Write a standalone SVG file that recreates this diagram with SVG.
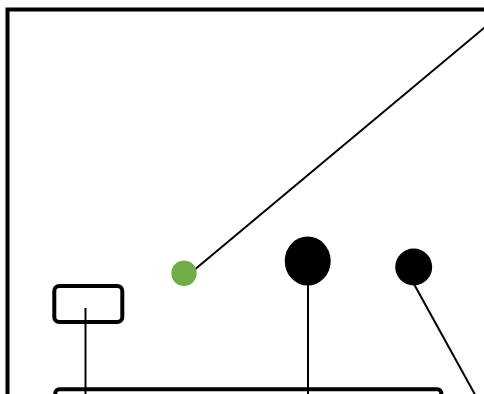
<svg xmlns="http://www.w3.org/2000/svg" width="484" height="394" viewBox="0 0 484 394">
<style>
.frame{fill:#fff;stroke:#000;stroke-width:4}
.box{fill:none;stroke:#000;stroke-width:4}
.conn{stroke:#000;stroke-width:2;fill:none}
</style>
<rect width="484" height="394" fill="#fff"/>
<g id="frame"><rect class="frame" x="7.5" y="9.5" width="520" height="440"/></g>
<g id="connectors">
<line class="conn" x1="193" y1="271" x2="500" y2="14.6"/>
<line class="conn" x1="308" y1="285" x2="308" y2="400"/>
<line class="conn" x1="414.5" y1="285" x2="478" y2="400"/>
<line class="conn" x1="85.5" y1="308" x2="85.5" y2="400"/>
</g>
<g id="green-dot"><circle cx="184" cy="273.3" r="12.7" fill="#70ad47"/></g>
<g id="ellipse"><ellipse cx="307.7" cy="261" rx="23" ry="24.5" fill="#000"/></g>
<g id="dot"><circle cx="413.7" cy="267" r="18.5" fill="#000"/></g>
<g id="small-box"><rect class="box" x="54.3" y="286" width="68" height="36" rx="5"/></g>
<g id="bottom-box"><rect class="box" x="55.3" y="389.3" width="386" height="50" rx="4"/></g>
</svg>
